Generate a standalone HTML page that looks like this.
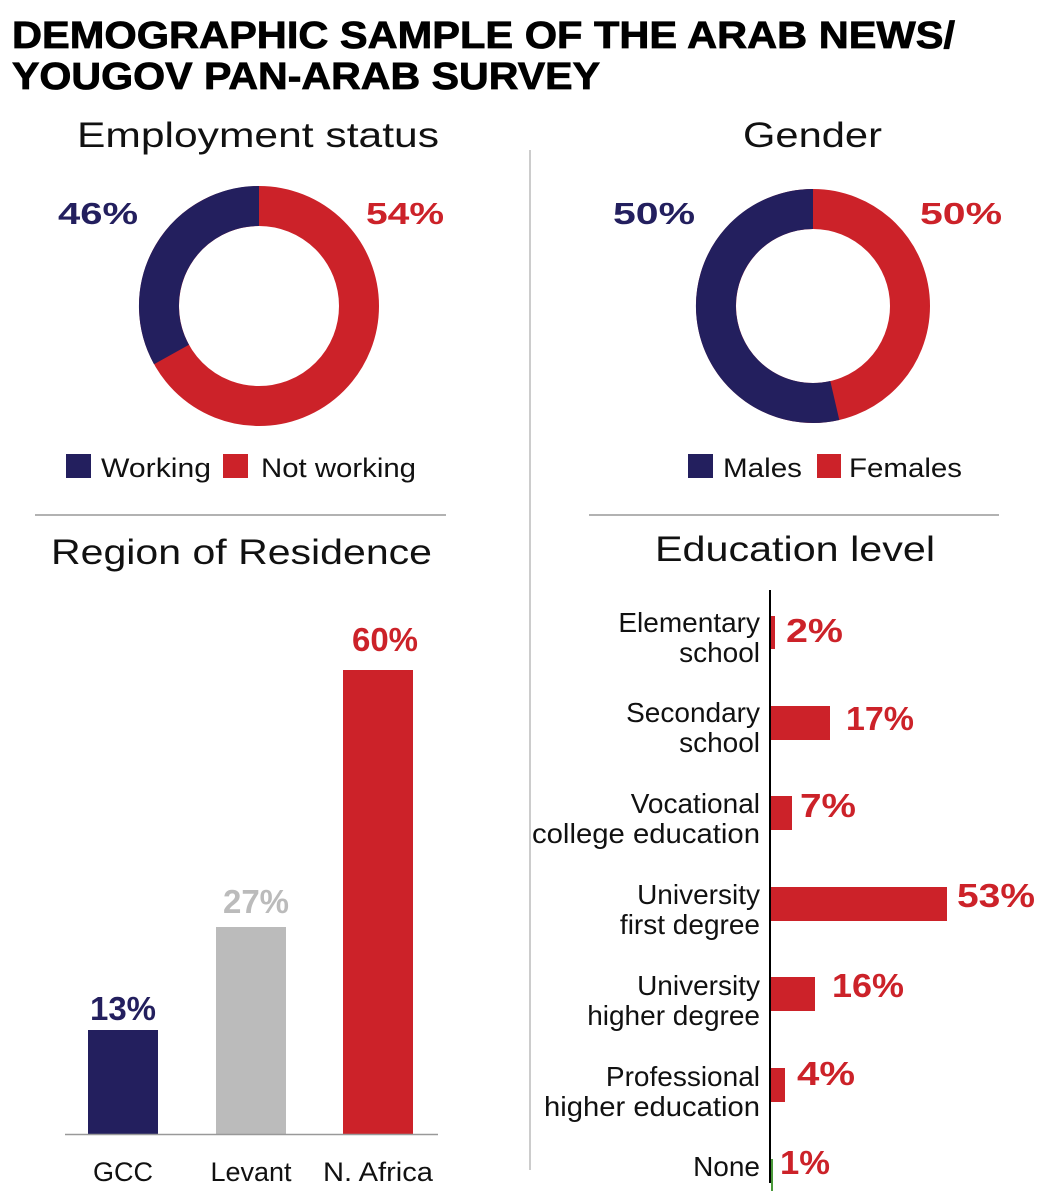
<!DOCTYPE html>
<html><head><meta charset="utf-8"><style>
html,body{margin:0;padding:0;background:#fff}
svg{display:block}
text{font-family:"Liberation Sans",sans-serif}
.t{font-weight:bold;font-size:38px;fill:#000;stroke:#000;stroke-width:0.8}
.h{font-size:35px;fill:#111}
.p{font-weight:bold;font-size:31px}
.l{font-size:27px;fill:#111}
</style></head><body>
<svg width="1043" height="1200" viewBox="0 0 1043 1200">
<text class="t" x="12" y="48" textLength="943" lengthAdjust="spacingAndGlyphs">DEMOGRAPHIC SAMPLE OF THE ARAB NEWS/</text>
<text class="t" x="12" y="89" textLength="588" lengthAdjust="spacingAndGlyphs">YOUGOV PAN-ARAB SURVEY</text>

<text class="h" x="77" y="147" textLength="362" lengthAdjust="spacingAndGlyphs">Employment status</text>
<text class="h" x="743" y="147" textLength="139" lengthAdjust="spacingAndGlyphs">Gender</text>

<circle cx="259" cy="306" r="100" fill="none" stroke="#cc2229" stroke-width="40"/>
<path d="M259 206 A100 100 0 0 0 171.5 354.5" fill="none" stroke="#231f5e" stroke-width="40"/>
<text class="p" x="58" y="224" fill="#231f5e" textLength="80" lengthAdjust="spacingAndGlyphs">46%</text>
<text class="p" x="366" y="224" fill="#cc2229" textLength="78" lengthAdjust="spacingAndGlyphs">54%</text>

<circle cx="813" cy="306" r="97" fill="none" stroke="#cc2229" stroke-width="40"/>
<path d="M813 209 A97 97 0 1 0 834.8 400.5" fill="none" stroke="#231f5e" stroke-width="40"/>
<text class="p" x="613" y="224" fill="#231f5e" textLength="82" lengthAdjust="spacingAndGlyphs">50%</text>
<text class="p" x="920" y="224" fill="#cc2229" textLength="82" lengthAdjust="spacingAndGlyphs">50%</text>

<rect x="66" y="454" width="25" height="24" fill="#231f5e"/>
<text class="l" x="101" y="477" textLength="110" lengthAdjust="spacingAndGlyphs">Working</text>
<rect x="223" y="454" width="25" height="24" fill="#cc2229"/>
<text class="l" x="261" y="477" textLength="155" lengthAdjust="spacingAndGlyphs">Not working</text>
<rect x="688" y="454" width="25" height="24" fill="#231f5e"/>
<text class="l" x="723" y="477" textLength="79" lengthAdjust="spacingAndGlyphs">Males</text>
<rect x="817" y="454" width="24" height="24" fill="#cc2229"/>
<text class="l" x="849" y="477" textLength="113" lengthAdjust="spacingAndGlyphs">Females</text>

<line x1="35" y1="515" x2="446" y2="515" stroke="#999" stroke-width="1.5"/>
<line x1="589" y1="515" x2="999" y2="515" stroke="#999" stroke-width="1.5"/>
<line x1="530" y1="150" x2="530" y2="1170" stroke="#bbb" stroke-width="1.5"/>

<text class="h" x="51" y="564" textLength="381" lengthAdjust="spacingAndGlyphs">Region of Residence</text>
<text class="h" x="655" y="561" textLength="280" lengthAdjust="spacingAndGlyphs">Education level</text>

<rect x="88" y="1030" width="70" height="104" fill="#231f5e"/>
<rect x="216" y="927" width="70" height="207" fill="#bbbbbb"/>
<rect x="343" y="670" width="70" height="464" fill="#cc2229"/>
<line x1="65" y1="1134.5" x2="438" y2="1134.5" stroke="#999" stroke-width="1.5"/>
<g style="font-weight:bold;font-size:33px" text-anchor="middle">
<text x="123" y="1020" fill="#231f5e">13%</text>
<text x="256" y="913" fill="#bbbbbb">27%</text>
<text x="385" y="651" fill="#cc2229">60%</text>
</g>
<text class="l" x="123" y="1181" text-anchor="middle">GCC</text>
<text class="l" x="251" y="1181" text-anchor="middle">Levant</text>
<text class="l" x="378" y="1181" text-anchor="middle" textLength="110" lengthAdjust="spacingAndGlyphs">N. Africa</text>

<line x1="770" y1="590" x2="770" y2="1183" stroke="#000" stroke-width="2"/>
<g fill="#cc2229">
<rect x="771" y="616" width="4" height="33"/>
<rect x="771" y="706" width="59" height="34"/>
<rect x="771" y="796" width="21" height="34"/>
<rect x="771" y="887" width="176" height="34"/>
<rect x="771" y="977" width="44" height="34"/>
<rect x="771" y="1068" width="14" height="34"/>
</g>
<rect x="771" y="1159" width="2" height="32" fill="#4a9a3a"/>
<g fill="#cc2229" style="font-weight:bold;font-size:33px">
<text x="786" y="642" textLength="57" lengthAdjust="spacingAndGlyphs">2%</text>
<text x="846" y="730" textLength="68" lengthAdjust="spacingAndGlyphs">17%</text>
<text x="800" y="817" textLength="56" lengthAdjust="spacingAndGlyphs">7%</text>
<text x="957" y="907" textLength="78" lengthAdjust="spacingAndGlyphs">53%</text>
<text x="832" y="997" textLength="72" lengthAdjust="spacingAndGlyphs">16%</text>
<text x="797" y="1085" textLength="58" lengthAdjust="spacingAndGlyphs">4%</text>
<text x="780" y="1174" textLength="50" lengthAdjust="spacingAndGlyphs">1%</text>
</g>
<g class="l" text-anchor="end" style="font-size:28px">
<text x="760" y="632">Elementary</text>
<text x="760" y="662">school</text>
<text x="760" y="722">Secondary</text>
<text x="760" y="752">school</text>
<text x="760" y="813">Vocational</text>
<text x="760" y="843" textLength="228" lengthAdjust="spacingAndGlyphs">college education</text>
<text x="760" y="904">University</text>
<text x="760" y="934">first degree</text>
<text x="760" y="995">University</text>
<text x="760" y="1025">higher degree</text>
<text x="760" y="1086">Professional</text>
<text x="760" y="1116" textLength="216" lengthAdjust="spacingAndGlyphs">higher education</text>
<text x="760" y="1176">None</text>
</g>
</svg>
</body></html>
